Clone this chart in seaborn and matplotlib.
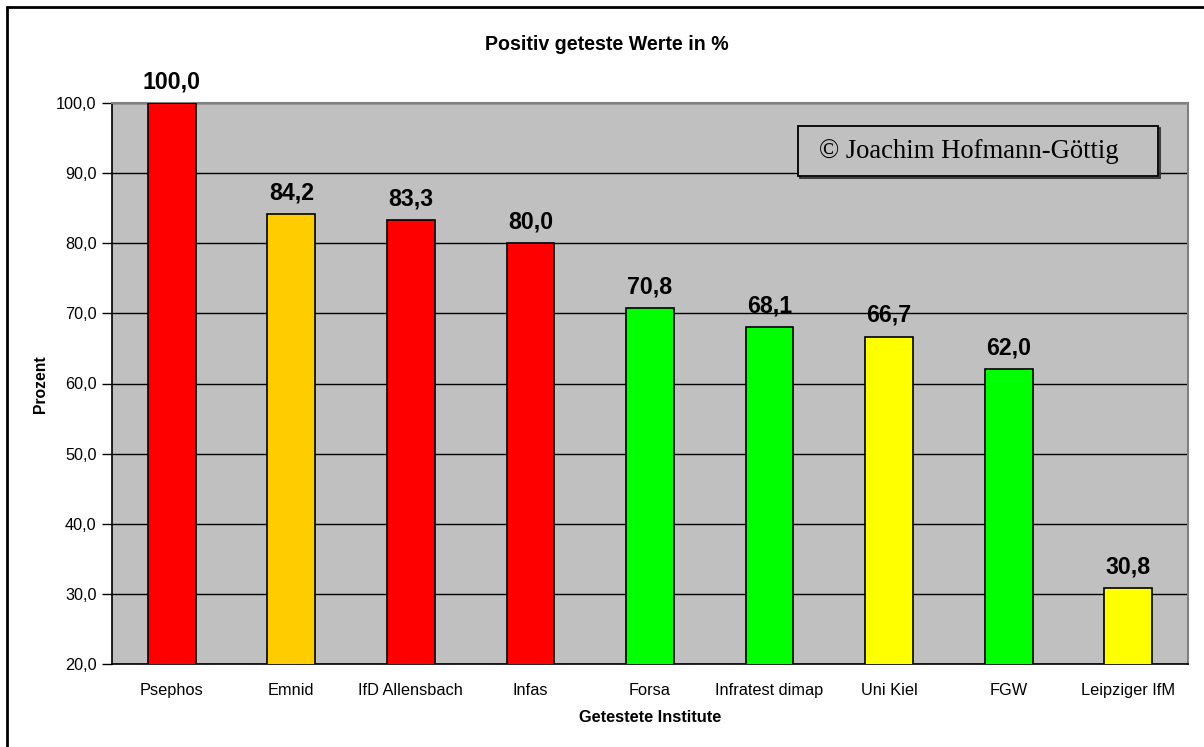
import matplotlib
matplotlib.use("Agg")
import matplotlib.pyplot as plt
from matplotlib.patches import Rectangle
from matplotlib.lines import Line2D
from matplotlib.ticker import FuncFormatter, FixedLocator
import seaborn as sns
import pandas as pd

# ---- data ----
institutes = ["Psephos", "Emnid", "IfD Allensbach", "Infas", "Forsa",
              "Infratest dimap", "Uni Kiel", "FGW", "Leipziger IfM"]
values = [100.0, 84.2, 83.3, 80.0, 70.8, 68.1, 66.7, 62.0, 30.8]
bar_colors = ["#FF0000", "#FFCC00", "#FF0000", "#FF0000", "#00FF00",
              "#00FF00", "#FFFF00", "#00FF00", "#FFFF00"]
y_ticks = [20, 30, 40, 50, 60, 70, 80, 90, 100]
title = "Positiv geteste Werte in %"
x_label = "Getestete Institute"
y_label = "Prozent"
copyright_text = "\u00a9 Joachim Hofmann-G\u00f6ttig"

sns.set_style("white")
plt.rcParams["font.family"] = ["Liberation Sans", "DejaVu Sans"]
plt.rcParams["text.color"] = "black"
plt.rcParams["xtick.color"] = "black"
plt.rcParams["ytick.color"] = "black"
plt.rcParams["axes.labelcolor"] = "black"

W, H = 1204, 747
fig = plt.figure(figsize=(W / 100, H / 100), dpi=100)
fig.patch.set_facecolor("white")

def fx(px):
    return px / W

def fy(py):
    return 1 - py / H

left, right, top, bottom = 112, 1188, 103, 664
ax = fig.add_axes([fx(left), fy(bottom), fx(right - left), (bottom - top) / H])
ax.set_facecolor("#C0C0C0")

df = pd.DataFrame({"inst": institutes, "val": values})
sns.barplot(data=df, x="inst", y="val", hue="inst", palette=bar_colors,
            legend=False, width=0.4, edgecolor="black", linewidth=1.2,
            saturation=1, ax=ax, zorder=3)

ax.set_ylim(20, 100)
ax.set_xlim(-0.5, len(institutes) - 0.5)
ax.yaxis.set_major_locator(FixedLocator(y_ticks))
ax.yaxis.set_major_formatter(FuncFormatter(lambda v, p: f"{v:.1f}".replace(".", ",")))
ax.grid(axis="y", color="black", linewidth=1.0, zorder=1)
ax.set_axisbelow(True)

# x ticks between categories
ax.set_xticks(range(len(institutes)))
ax.set_xticklabels(institutes)
ax.set_xticks([i - 0.5 for i in range(len(institutes) + 1)], minor=True)
ax.tick_params(axis="x", which="major", length=0, pad=14, labelsize=11.8,
               labelcolor="black")
ax.tick_params(axis="x", which="minor", length=6, width=1, direction="out", color="black")
ax.tick_params(axis="y", which="major", length=7, width=1, direction="out",
               color="black", pad=4, labelsize=11.7, labelcolor="black")
ax.tick_params(left=True, bottom=True)

for s in ["left", "bottom"]:
    ax.spines[s].set_color("black")
    ax.spines[s].set_linewidth(1.2)
for s in ["top", "right"]:
    ax.spines[s].set_color("#808080")
    ax.spines[s].set_linewidth(1.5)

ax.set_xlabel("")
ax.set_ylabel("")

for i, v in enumerate(values):
    ax.annotate(f"{v:.1f}".replace(".", ","), (i, v), xytext=(0, 10.5),
                textcoords="offset points", ha="center", va="baseline",
                fontsize=16.7, fontweight="bold", color="black", zorder=5)

fig.text(fx(607), fy(44), title, ha="center", va="center",
         fontsize=14.1, fontweight="bold", color="black")
fig.text(fx(650), fy(717), x_label, ha="center", va="center",
         fontsize=11.8, fontweight="bold", color="black")
fig.text(fx(40), fy(384), y_label, ha="center", va="center", rotation=90,
         fontsize=11.3, fontweight="bold", color="black")

# copyright box with shadow
bx0, by0, bx1, by1 = 798, 126, 1158, 176
shadow = Rectangle((fx(bx0 + 2), fy(by1 + 2)), fx(bx1 - bx0), (by1 - by0) / H,
                   transform=fig.transFigure, facecolor="none",
                   edgecolor="#333333", linewidth=1.3, zorder=6)
box = Rectangle((fx(bx0), fy(by1)), fx(bx1 - bx0), (by1 - by0) / H,
                transform=fig.transFigure, facecolor="#C0C0C0",
                edgecolor="black", linewidth=1.3, zorder=7)
fig.add_artist(shadow)
fig.add_artist(box)
fig.text(fx(819), fy(152), copyright_text, ha="left", va="center",
         fontsize=19.2, family=["Liberation Serif", "DejaVu Serif"],
         color="black", zorder=8)

# outer chart border (left and top only)
fig.add_artist(Line2D([fx(7), fx(7)], [fy(6), 0.0], transform=fig.transFigure,
                      color="black", linewidth=2, solid_capstyle="butt"))
fig.add_artist(Line2D([fx(6), 1.0], [fy(7), fy(7)], transform=fig.transFigure,
                      color="black", linewidth=2, solid_capstyle="butt"))

fig.savefig("out.png", dpi=100, facecolor="white")
